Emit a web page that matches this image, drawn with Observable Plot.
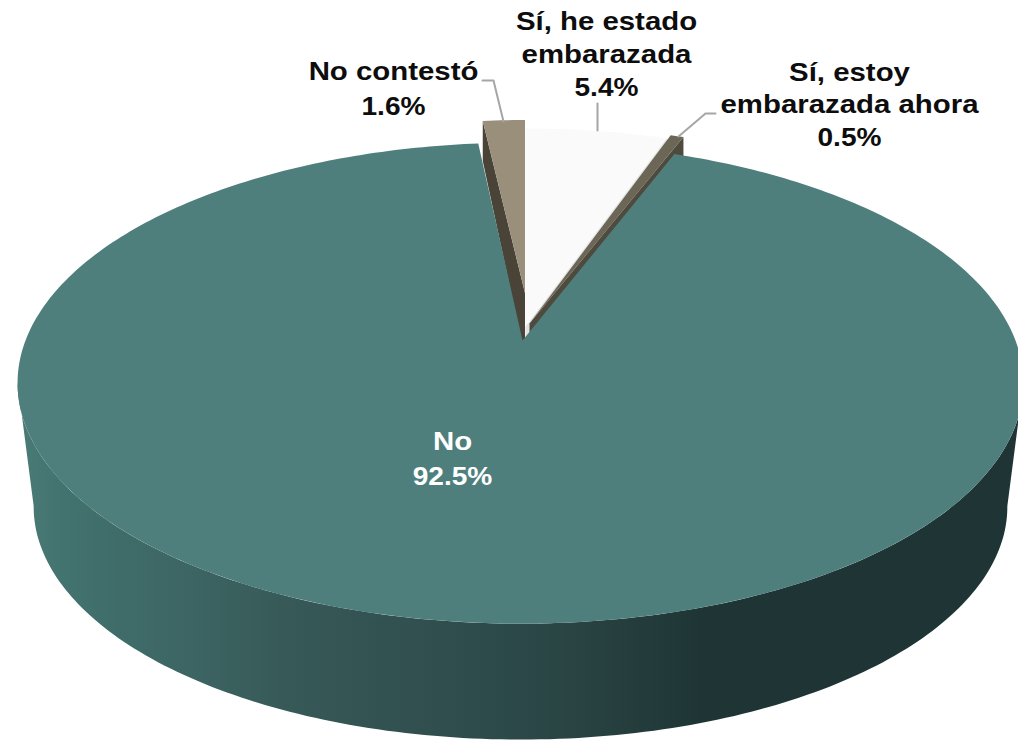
<!DOCTYPE html>
<html><head><meta charset="utf-8">
<script src="https://cdn.jsdelivr.net/npm/d3@7"></script>
<script src="https://cdn.jsdelivr.net/npm/@observablehq/plot@0.6"></script>
<style>html,body{margin:0;padding:0;background:#fff}svg{display:block}</style>
</head><body><div id="chart"></div>
<script>
// Data
const categories = ["Sí, he estado embarazada", "Sí, estoy embarazada ahora", "No", "No contestó"];
const shares = [5.4, 0.5, 92.5, 1.6];

// Layout of the perspective pie (separate from data)
const labelLines = [["Sí, he estado", "embarazada"], ["Sí, estoy", "embarazada ahora"], ["No"], ["No contestó"]];
const labelAt = [[606, 21], [849, 72], [452, 441], [393, 71]];
const labelStep = [33, 32.5, 35, 35];
const labelColor = ["#0d0d0d", "#0d0d0d", "#fff", "#0d0d0d"];
const leaders = [
  [[597, 103], [597, 130]],
  [[715, 113], [705, 113], [678, 136]],
  [],
  [[482, 80], [493, 80], [503, 121]]
];
const shift = [[3, -14], [7, -17], [0, 0], [2.5, -22.5]];
const apexLift = [0, 0, 0, 25];
const depth = [19, 19, 0, 40];
const topFill = ["#fafafa", "#6b6656", "#4e7f7d", "#998f7a"];
const sideFill = ["#e4e4e4", "#4f4a3e", "#1f3535", "#4a4438"];
const k = 0.177, rx = 495, ry = 233, apexX = 522, apexY = 340, rimX = 520;
const wallScale = 0.968, wallApexY = 465;
const wallStops = [[0, "#4b7b77"], [0.04, "#437470"], [0.1, "#3f6c69"], [0.18, "#3c6462"], [0.28, "#365856"], [0.48, "#2d4a4a"], [0.58, "#274140"], [0.68, "#1f3535"], [1, "#1f3535"]];
const nameStretch = 1.13, valueStretch = 1.08;

// Cumulative angles, clockwise from 12 o'clock
const stops = d3.cumsum(shares);
const angle = p => p / d3.sum(shares) * 2 * Math.PI;
const start = i => angle(i ? stops[i - 1] : 0);
const end = i => angle(stops[i]);

function rim(theta, s = 1, ox = rimX, oy = apexY) {
  const u = Math.sin(theta), v = -Math.cos(theta), w = 1 - k * v;
  return {x: ox + s * rx * u / w, y: oy + s * ry * v / w};
}
function arc(a, b, s, ox, oy) {
  const n = Math.max(2, Math.ceil(Math.abs(b - a) * 60));
  return d3.range(n + 1).map(j => rim(a + (b - a) * j / n, s, ox, oy));
}
function sliceTop(i) {
  const ax = apexX + shift[i][0], oy = apexY + shift[i][1];
  const ox = i === 2 ? rimX : ax;
  const tip = {x: ax, y: oy - apexLift[i]};
  return [tip, ...arc(start(i), end(i), 1, ox, oy), tip];
}
function radialWall(i, theta) {
  const ox = apexX + shift[i][0], oy = apexY + shift[i][1];
  const p = rim(theta, 1, ox, oy);
  const tip = {x: ox, y: oy - apexLift[i]};
  return [tip, p, {x: p.x, y: p.y + depth[i]}, {x: ox, y: oy + depth[i]}, tip];
}
const deg = Math.PI / 180;
const wall = [...arc(100 * deg, 260 * deg), ...arc(260 * deg, 100 * deg, wallScale, rimX, wallApexY)];
wall.push(wall[0]);

const gradient = () => {
  const svg = d3.create("svg:defs");
  const g = svg.append("linearGradient").attr("id", "wallShade").attr("x1", 0).attr("x2", 1).attr("y1", 0).attr("y2", 0);
  wallStops.forEach(([o, c]) => g.append("stop").attr("offset", o).attr("stop-color", c));
  return svg.node();
};
const polygon = (pts, fill) => Plot.line(pts, {x: "x", y: "y", fill, stroke: "none", curve: "linear-closed"});

const nameRows = [], valueRows = [];
categories.forEach((c, i) => {
  labelLines[i].forEach((t, j) => nameRows.push({t, x: labelAt[i][0], y: labelAt[i][1] + j * labelStep[i], c: labelColor[i]}));
  valueRows.push({t: shares[i].toFixed(1) + "%", x: labelAt[i][0], y: labelAt[i][1] + labelLines[i].length * labelStep[i], c: labelColor[i]});
});
const textStyle = {x: "x", y: "y", text: "t", fill: "c", fontFamily: "Liberation Sans", fontWeight: "bold", fontSize: 26, textAnchor: "middle"};

const plot = Plot.plot({
  width: 1018, height: 740, margin: 0,
  x: {domain: [0, 1018], range: [0, 1018], axis: null},
  y: {domain: [0, 740], range: [0, 740], axis: null},
  style: {background: "#fff"},
  marks: [
    gradient,
    polygon(wall, "url(#wallShade)"),
    polygon(radialWall(3, start(3)), sideFill[3]),
    polygon(radialWall(0, end(0)), sideFill[0]),
    polygon(radialWall(1, end(1)), sideFill[1]),
    polygon(sliceTop(2), topFill[2]),
    polygon(sliceTop(3), topFill[3]),
    polygon(sliceTop(0), topFill[0]),
    polygon(sliceTop(1), topFill[1]),
    ...leaders.filter(l => l.length).map(l => Plot.line(l, {x: d => d[0], y: d => d[1], stroke: "#a6a6a6", strokeWidth: 2, curve: "linear"})),
    Plot.text(nameRows, {...textStyle, className: "lbl"}),
    Plot.text(valueRows, {...textStyle, className: "val"})
  ]
});
document.getElementById("chart").append(plot);
// The reference's lettering is horizontally widened: keep real text, stretch the glyphs.
[[".lbl text", nameStretch], [".val text", valueStretch]].forEach(([sel, f]) => {
  plot.querySelectorAll(sel).forEach(t => {
    t.setAttribute("textLength", t.getComputedTextLength() * f);
    t.setAttribute("lengthAdjust", "spacingAndGlyphs");
  });
});
</script></body></html>
